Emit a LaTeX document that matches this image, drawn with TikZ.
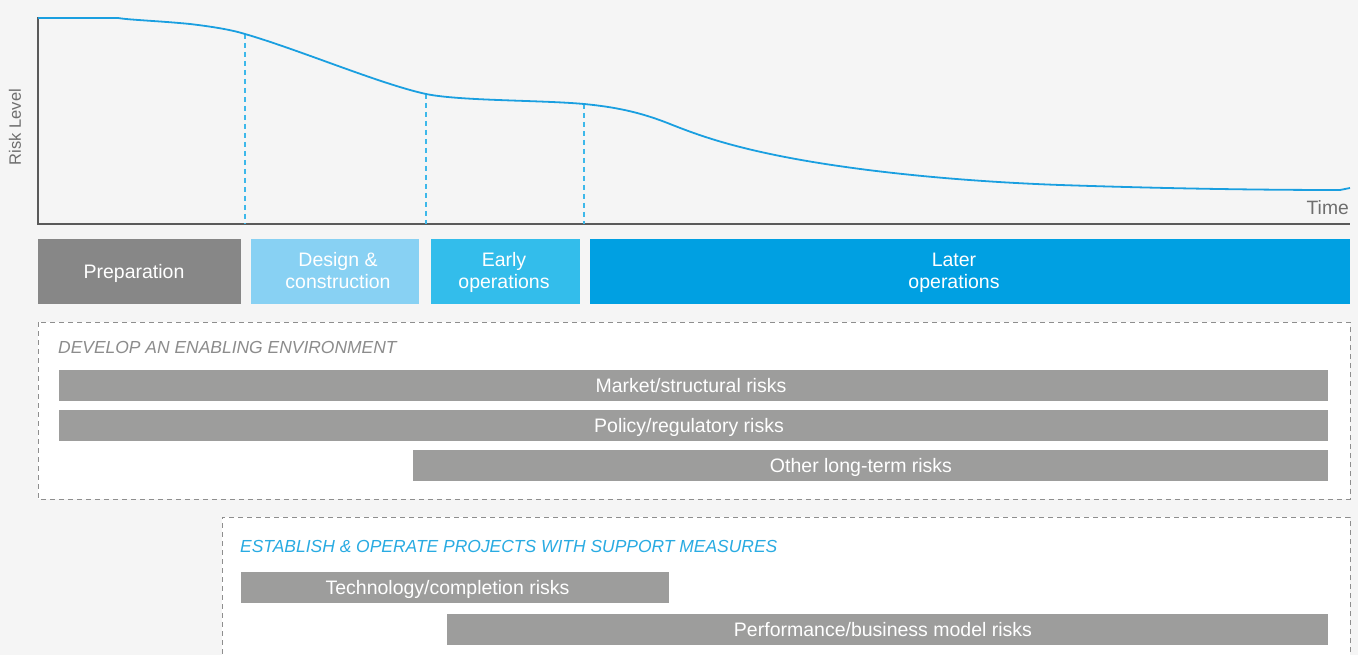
\documentclass[tikz,border=0pt]{standalone}
\usepackage{fontspec}
\setmainfont{Liberation Sans}
\begin{document}
\begin{tikzpicture}[x=1pt,y=-1pt,
  box/.style={draw=none,inner sep=0pt,minimum height=#1},
  boxtext/.style={anchor=base,inner sep=0pt,text=white,align=center,font=\fontsize{19.5}{22}\selectfont},
  groupbox/.style={draw=dashg,fill=white,dash pattern=on 5pt off 4pt,line width=0.9pt},
  heading/.style={anchor=base west,inner sep=0pt,font=\fontsize{17.45}{20}\selectfont\itshape},
  guide/.style={draw=guideb,line width=1.1pt,dash pattern=on 5pt off 4pt}
]
\definecolor{bg}{HTML}{F5F5F5}
\definecolor{axisg}{HTML}{5A5A5A}
\definecolor{curveb}{HTML}{1A9FE0}
\definecolor{guideb}{HTML}{3DB8EA}
\definecolor{prepg}{HTML}{878787}
\definecolor{designb}{HTML}{88D1F3}
\definecolor{earlyb}{HTML}{33BDEB}
\definecolor{laterb}{HTML}{00A0E2}
\definecolor{barg}{HTML}{9D9D9C}
\definecolor{dashg}{HTML}{8E8E8E}
\definecolor{headg}{HTML}{8C8C8C}
\definecolor{headb}{HTML}{29ABE2}
\definecolor{labelg}{HTML}{6E6E6E}

\fill[bg] (0,0) rectangle (1358,655);
\useasboundingbox (0,0) rectangle (1358,655);

% axes
\coordinate (ytop) at (38,17);
\coordinate (orig) at (38,224);
\coordinate (xend) at (1350,224);
\draw[axisg,line width=1.3pt] (ytop) -- (orig) -- (xend);
\node[rotate=90,text=labelg,font=\fontsize{16.5}{18}\selectfont,inner sep=0pt] (ylab) at (15,127) {Risk Level};
\node[anchor=base east,text=labelg,font=\fontsize{19.3}{22}\selectfont,inner sep=0pt] (xlab) at (1349,215) {Time};

% guides
\coordinate (g1t) at (245,34);  \coordinate (g1b) at (245,224);
\coordinate (g2t) at (426,94);  \coordinate (g2b) at (426,224);
\coordinate (g3t) at (584,104); \coordinate (g3b) at (584,224);
\draw[guide] (g1t) -- (g1b);
\draw[guide] (g2t) -- (g2b);
\draw[guide] (g3t) -- (g3b);

% curve
\draw[curveb,line width=1.8pt] (38,18) -- (118,18)
  .. controls (130,20) and (160,21) .. (190,24)
  .. controls (215,27) and (232,30) .. (245,34)
  .. controls (300,50) and (380,84) .. (426,94)
  .. controls (460,101) and (540,100) .. (584,104)
  .. controls (615,107) and (640,112) .. (670,124)
  .. controls (700,136) and (730,146) .. (780,156)
  .. controls (850,170) and (950,181) .. (1060,185)
  .. controls (1180,189) and (1270,190) .. (1340,190)
  -- (1350,188);

% phases
\node[box=65pt,fill=prepg,minimum width=203pt] (prep) at (139.5,271.5) {};
\node[box=65pt,fill=designb,minimum width=168pt] (design) at (335,271.5) {};
\node[box=65pt,fill=earlyb,minimum width=149pt] (early) at (505.5,271.5) {};
\node[box=65pt,fill=laterb,minimum width=760pt] (later) at (970,271.5) {};
\node[boxtext] (tprep) at (134,279) {Preparation};
\node[boxtext] (tdesign) at (338,289) {Design \&\\construction};
\node[boxtext] (tearly) at (504,289) {Early\\operations};
\node[boxtext] (tlater) at (954,289) {Later\\operations};

% group 1
\draw[groupbox] (38,322) rectangle (1350,499);
\node[heading,text=headg] (h1) at (58,353) {DEVELOP AN ENABLING ENVIRONMENT};
\node[box=31pt,fill=barg,minimum width=1269pt] (market) at (693.5,385.5) {};
\node[box=31pt,fill=barg,minimum width=1269pt] (policy) at (693.5,425.5) {};
\node[box=31pt,fill=barg,minimum width=915pt] (other) at (870.5,465.5) {};
\node[boxtext] (tmarket) at (691,392) {Market/structural risks};
\node[boxtext] (tpolicy) at (689,432) {Policy/regulatory risks};
\node[boxtext] (tother) at (861,472) {Other long-term risks};

% group 2
\draw[groupbox] (1350,670) -- (1350,517) -- (222,517) -- (222,670);
\node[heading,text=headb] (h2) at (240,552) {ESTABLISH \& OPERATE PROJECTS WITH SUPPORT MEASURES};
\node[box=31pt,fill=barg,minimum width=428pt] (tech) at (455,587.5) {};
\node[box=31pt,fill=barg,minimum width=881pt] (perf) at (887.5,629.5) {};
\node[boxtext] (ttech) at (447.5,594) {Technology/completion risks};
\node[boxtext] (tperf) at (883,636) {Performance/business model risks};
\end{tikzpicture}
\end{document}
